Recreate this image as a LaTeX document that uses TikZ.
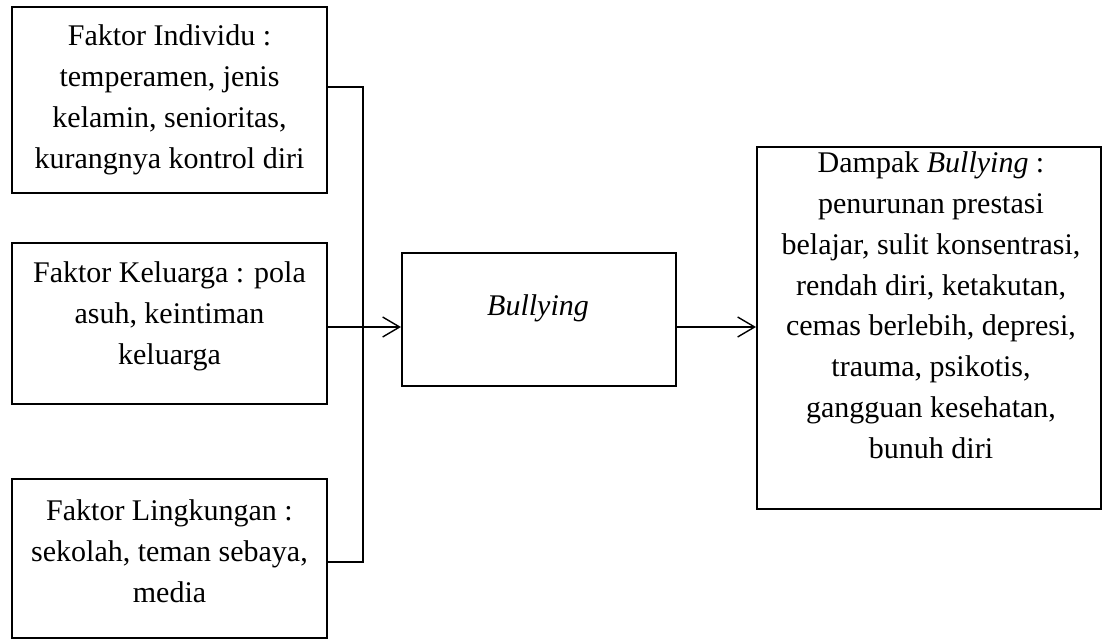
\documentclass[tikz,border=0pt]{standalone}
\usepackage{fontspec}
\setmainfont{Liberation Serif}
\usetikzlibrary{arrows.meta}
\begin{document}
\begin{tikzpicture}[x=0.5pt,y=-0.5pt,
  boxnode/.style={draw,line width=1pt,inner sep=0pt},
  txt/.style={anchor=north,align=center,inner sep=0pt,font=\fontsize{15}{20.4}\selectfont},
  conn/.style={line width=0.7pt},
  arr/.style={line width=0.7pt,-{Straight Barb[length=8.5pt,width=10pt,line width=0.7pt]}}]
\useasboundingbox (0,0) rectangle (1103,641);
% boxes
\node[boxnode,minimum width=157.5pt,minimum height=93pt] (b1) at (169.5,100) {};
\node[boxnode,minimum width=157.5pt,minimum height=80.5pt] (b2) at (169.5,323.5) {};
\node[boxnode,minimum width=157.5pt,minimum height=79.5pt] (b3) at (169.5,558.5) {};
\node[boxnode,minimum width=137pt,minimum height=66.5pt] (bully) at (539,319.5) {};
\node[boxnode,minimum width=172pt,minimum height=181pt] (dampak) at (929,328) {};
% texts
\node[txt] (t1) at (169.5,24.5) {Faktor Individu :\\temperamen, jenis\\kelamin, senioritas,\\kurangnya kontrol diri};
\node[txt] (t2) at (169.5,261.5) {Faktor Keluarga : pola\\asuh, keintiman\\keluarga};
\node[txt] (t3) at (169.5,499.5) {Faktor Lingkungan :\\sekolah, teman sebaya,\\media};
\node[txt] (tb) at (538,294.5) {\textit{Bullying}};
\node[txt] (td) at (931,151.5) {Dampak \textit{Bullying} :\\penurunan prestasi\\belajar, sulit konsentrasi,\\rendah diri, ketakutan,\\cemas berlebih, depresi,\\trauma, psikotis,\\gangguan kesehatan,\\bunuh diri};
% connectors
\coordinate (j1) at (363,87);
\coordinate (j3) at (363,562);
\coordinate (m) at (363,327);
\draw[conn] (b1.east |- j1) -- (j1) -- (j3) -- (b3.east |- j3);
\draw[arr] (b2.east |- m) -- (bully.west |- m);
\draw[arr] (bully.east |- m) -- (dampak.west |- m);
\end{tikzpicture}
\end{document}
